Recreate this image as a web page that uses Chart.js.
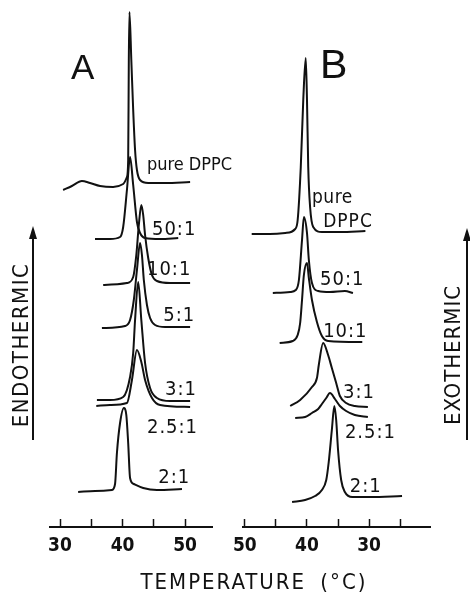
<!DOCTYPE html>
<html>
<head>
<meta charset="utf-8">
<script src="https://cdn.jsdelivr.net/npm/chart.js@4.4.1/dist/chart.umd.min.js"></script>
<style>
  html, body { margin: 0; padding: 0; background: #fff; }
  #wrap { position: relative; width: 470px; height: 592px; overflow: hidden;
          font-family: "DejaVu Sans Condensed", "DejaVu Sans", sans-serif; color: #111; }
  #wrap canvas { position: absolute; left: 0; top: 0; }
  .txt { position: absolute; white-space: nowrap; line-height: 1; }
  .panel { font-family: "Liberation Sans", sans-serif; }
  .side { font-size: 22px; letter-spacing: 1.5px; transform: translate(-50%, -50%) rotate(-90deg); }
  .stem { position: absolute; width: 2px; background: #111; }
  .head { position: absolute; width: 0; height: 0; border-left: 4px solid transparent;
          border-right: 4px solid transparent; border-bottom: 13px solid #111; }
</style>
</head>
<body>
<div id="wrap">
  <canvas id="chartA" width="470" height="592"></canvas>
  <canvas id="chartB" width="470" height="592"></canvas>

  <div class="txt panel" style="left:71px; top:49px; font-size:35px;">A</div>
  <div class="txt panel" style="left:320px; top:44px; font-size:41px;">B</div>

  <div class="txt side" style="left:21px; top:345px;">ENDOTHERMIC</div>
  <div class="stem" style="left:32px; top:236px; height:204px;"></div>
  <div class="head" style="left:29px; top:226px;"></div>

  <div class="txt side" style="left:453px; top:355px; letter-spacing:1px;">EXOTHERMIC</div>
  <div class="stem" style="left:466px; top:238px; height:202px;"></div>
  <div class="head" style="left:463px; top:228px;"></div>

  <div class="txt" style="left:254px; top:571px; font-size:22px; letter-spacing:2px; word-spacing:6px; transform:translateX(-50%);">TEMPERATURE (°C)</div>
</div>

<script>
// heat flow traces, signal in arbitrary units above each trace's baseline
// A: heating scans
const ratiosA = ["pure DPPC", "50:1", "10:1", "5:1", "3:1", "2.5:1", "2:1"];
const offsetA = [34.1, 28.8, 24.3, 20.0, 12.7, 12.1, 3.6];

const tA_pure = [30.5, 31.9, 33.5, 34.8, 36.4, 38.5, 40.1, 40.7, 40.9, 41.0, 41.1, 41.4, 41.7, 42.0, 42.3, 42.8, 44.1, 46.8, 50.8];
const hA_pure = [-0.4, 0, 0.5, 0.3, 0, -0.1, 0.2, 0.9, 2.6, 12.6, 17.4, 12.6, 7.6, 3.6, 1.6, 0.6, 0.3, 0.3, 0.4];
const tA_50 = [35.6, 38.0, 39.6, 40.1, 40.7, 41.2, 41.7, 42.3, 42.8, 43.6, 46.0, 48.9];
const hA_50 = [0, 0, 0.2, 1.2, 4.9, 8.2, 5.4, 1.7, 0.6, 0.1, 0, 0.1];
const tA_10 = [36.9, 40.7, 41.7, 42.2, 42.6, 43.0, 43.3, 43.6, 44.1, 44.7, 45.5, 47.6, 50.8];
const hA_10 = [-0.1, 0.1, 0.7, 2.9, 5.9, 7.9, 6.9, 4.9, 2.6, 0.9, 0.3, 0.1, 0.1];
const tA_5 = [36.7, 40.4, 41.2, 41.8, 42.3, 42.8, 43.1, 43.4, 43.9, 44.4, 45.2, 46.8, 50.8];
const hA_5 = [-0.1, 0.1, 0.7, 2.7, 5.7, 8.4, 7.2, 4.7, 2.2, 0.9, 0.2, 0, 0];
const tA_3 = [35.9, 38.0, 40.1, 41.2, 41.7, 42.0, 42.5, 43.0, 43.6, 44.4, 45.5, 47.6, 50.8];
const hA_3 = [0, 0, 0.3, 2.3, 4.7, 8.0, 11.8, 8.0, 3.7, 1.2, 0.2, -0.1, -0.1];
const tA_25 = [35.8, 38.0, 40.7, 41.5, 42.3, 43.0, 43.6, 44.7, 46.0, 50.8];
const hA_25 = [0, 0.1, 0.3, 2.6, 5.6, 4.4, 2.6, 0.8, 0.1, -0.1];
const tA_2 = [32.9, 35.6, 38.3, 38.8, 39.1, 39.6, 40.2, 40.6, 40.9, 41.2, 41.8, 43.3, 45.5, 49.5];
const hA_2 = [-0.1, 0, 0.1, 0.7, 3.8, 6.8, 8.3, 7.6, 4.8, 1.3, 0.7, 0.3, 0.1, 0.2];

// B: cooling scans (axis runs from high to low temperature)
const ratiosB = ["pure DPPC", "50:1", "10:1", "3:1", "2.5:1", "2:1"];
const offsetB = [29.3, 23.5, 18.5, 12.0, 11.0, 3.0];

const tB_pure = [48.9, 46.0, 43.5, 41.9, 41.5, 41.0, 40.6, 40.2, 40.0, 39.8, 39.5, 39.0, 37.6, 34.7, 30.6];
const hB_pure = [0, 0, 0.1, 0.5, 1.4, 6.7, 13.4, 17.6, 13.4, 6.7, 2.7, 0.7, 0.2, 0.2, 0.3];
const tB_50 = [45.5, 42.7, 41.8, 41.3, 40.8, 40.5, 40.0, 39.7, 39.2, 38.2, 36.3, 33.9, 32.6];
const hB_50 = [-0.1, 0, 0.2, 1.2, 5.2, 7.5, 5.9, 3.2, 0.9, 0.1, 0, 0.1, -0.1];
const tB_10 = [44.4, 42.3, 41.5, 41.1, 40.8, 40.5, 40.0, 39.7, 39.2, 38.4, 37.6, 36.6, 31.1];
const hB_10 = [-0.1, 0.1, 0.7, 1.9, 4.2, 6.7, 7.9, 6.4, 4.2, 2.0, 0.6, 0.1, 0];
const tB_3 = [42.7, 41.1, 39.2, 38.4, 38.1, 37.4, 36.6, 36.0, 35.3, 34.7, 33.7, 32.3, 30.2];
const hB_3 = [0.1, 0.7, 2.0, 2.9, 4.2, 6.4, 5.2, 3.9, 2.4, 1.1, 0.4, 0.1, 0];
const tB_25 = [41.9, 40.3, 39.2, 38.2, 37.6, 36.9, 36.3, 35.5, 34.7, 33.7, 32.3, 30.2];
const hB_25 = [-0.1, 0, 0.4, 0.8, 1.3, 1.9, 2.4, 1.8, 1.1, 0.6, 0.2, 0];
const tB_2 = [42.4, 40.3, 38.7, 37.6, 36.9, 36.5, 36.0, 35.6, 35.3, 35.0, 34.5, 33.9, 32.7, 29.8, 24.7];
const hB_2 = [-0.5, -0.3, 0.1, 0.7, 1.7, 3.5, 6.7, 9.1, 7.7, 4.7, 1.7, 0.5, 0, 0, 0.1];

const tickMarks = [25, 30, 35, 40, 45, 50];
const tickLabels = [30, 40, 50];

// where the ratio labels sit, in (°C, signal) units
const labelPosA = [[43.9, 35.7], [44.7, 29.2], [43.9, 25.2], [46.5, 20.6], [46.8, 13.2], [43.9, 9.4], [45.7, 4.4]];
const labelPosB = [[39.2, 32.4], [37.9, 24.2], [37.4, 19.0], [34.2, 12.9], [33.9, 8.9], [33.1, 3.5]];

function trace(ts, hs, base) {
  return { data: ts.map((t, i) => ({ x: t, y: base + hs[i] })) };
}

const traceLabels = {
  id: "traceLabels",
  afterDatasetsDraw(chart, args, opts) {
    const { ctx, scales: { x, y } } = chart;
    ctx.save();
    ctx.fillStyle = "#111";
    ctx.textAlign = "left";
    ctx.textBaseline = "alphabetic";
    opts.items.forEach(it => {
      ctx.font = it.font;
      ctx.letterSpacing = it.spacing || "0px";
      ctx.fillText(it.text, x.getPixelForValue(it.at[0]), y.getPixelForValue(it.at[1]));
    });
    ctx.restore();
  }
};

const labelFont = '20px "DejaVu Sans Condensed", "DejaVu Sans", sans-serif';
const pureFontA = '18px "DejaVu Sans Condensed", "DejaVu Sans", sans-serif';
const pureFontB = '19px "DejaVu Sans Condensed", "DejaVu Sans", sans-serif';

function panel(id, sets, xmin, xmax, reverse, padLeft, padRight, items) {
  const lo = Math.min(xmin, xmax), hi = Math.max(xmin, xmax);
  return new Chart(document.getElementById(id), {
    type: "line",
    data: { datasets: sets },
    options: {
      responsive: false,
      animation: false,
      events: [],
      layout: { padding: { left: padLeft, right: padRight, top: 0, bottom: 25 } },
      elements: {
        point: { radius: 0 },
        line: { borderWidth: 2, borderColor: "#111", cubicInterpolationMode: "monotone", fill: false }
      },
      plugins: { legend: { display: false }, tooltip: { enabled: false }, traceLabels: { items } },
      scales: {
        x: {
          type: "linear", min: lo, max: hi, reverse,
          afterBuildTicks: s => { s.ticks = tickMarks.filter(v => v >= lo && v <= hi).map(v => ({ value: v })); },
          afterFit: s => { s.height = 40; s.paddingLeft = 0; s.paddingRight = 0; },
          grid: { drawOnChartArea: false, drawTicks: true, tickLength: -8, tickWidth: 1.5, tickColor: "#111" },
          border: { display: true, color: "#111", width: 2 },
          ticks: {
            color: "#111", padding: 16, autoSkip: false, maxRotation: 0,
            font: { family: '"DejaVu Sans Condensed", "DejaVu Sans", sans-serif', size: 19, weight: "bold" },
            callback: v => tickLabels.includes(v) ? String(v) : ""
          }
        },
        y: { display: false, min: 0, max: 52.7 }
      }
    },
    plugins: [traceLabels]
  });
}

const setsA = [
  trace(tA_pure, hA_pure, offsetA[0]),
  trace(tA_50, hA_50, offsetA[1]),
  trace(tA_10, hA_10, offsetA[2]),
  trace(tA_5, hA_5, offsetA[3]),
  trace(tA_3, hA_3, offsetA[4]),
  trace(tA_25, hA_25, offsetA[5]),
  trace(tA_2, hA_2, offsetA[6])
];
const itemsA = ratiosA.map((r, i) => ({ text: r, at: labelPosA[i], font: i === 0 ? pureFontA : labelFont, spacing: i === 0 ? "0px" : "1px" }));

const setsB = [
  trace(tB_pure, hB_pure, offsetB[0]),
  trace(tB_50, hB_50, offsetB[1]),
  trace(tB_10, hB_10, offsetB[2]),
  trace(tB_3, hB_3, offsetB[3]),
  trace(tB_25, hB_25, offsetB[4]),
  trace(tB_2, hB_2, offsetB[5])
];
const itemsB = [];
ratiosB.forEach((r, i) => {
  if (i === 0) {
    // "pure DPPC" is split over two lines in panel B
    const [w1, w2] = r.split(" ");
    itemsB.push({ text: w1, at: labelPosB[0], font: pureFontB, spacing: "0.5px" });
    itemsB.push({ text: w2, at: [labelPosB[0][0] - 1.8, labelPosB[0][1] - 2.4], font: pureFontB, spacing: "1px" });
  } else {
    itemsB.push({ text: r, at: labelPosB[i], font: labelFont, spacing: "1px" });
  }
});

panel("chartA", setsA, 28.4, 54.3, false, 50, 258, itemsA);
panel("chartB", setsB, 20.2, 50.3, true, 243, 40, itemsB);
</script>
</body>
</html>
